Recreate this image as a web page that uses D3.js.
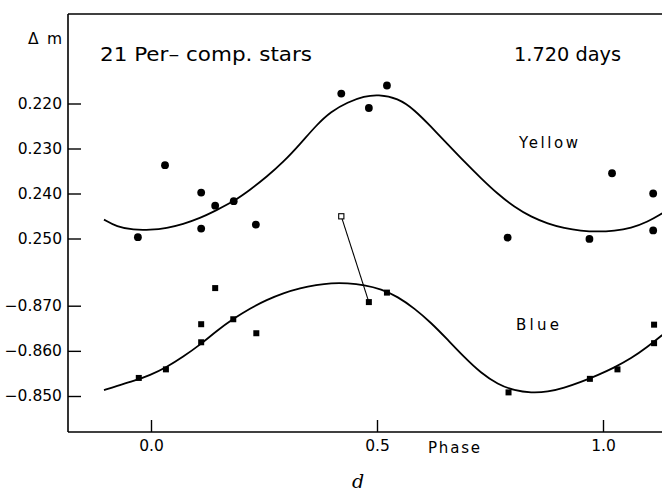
<!DOCTYPE html>
<html>
<head>
<meta charset="utf-8">
<script src="https://cdn.jsdelivr.net/npm/d3@7"></script>
<style>
  body { margin: 0; background: #fff; overflow: hidden; }
  svg { display: block; font-family: "DejaVu Sans", sans-serif; }
</style>
</head>
<body>
<svg id="chart"></svg>
<script>
const SVG_WIDTH = 662;
const SVG_HEIGHT = 498;

// observed points, yellow (circles)
const yellowPhase = [-0.029, 0.031, 0.111, 0.111, 0.142, 0.183, 0.232, 0.421, 0.482, 0.522, 0.789, 0.970, 1.020, 1.111, 1.111];
const yellowMag = [0.2497, 0.2337, 0.2398, 0.2478, 0.2427, 0.2417, 0.2469, 0.2178, 0.2210, 0.2160, 0.2498, 0.2501, 0.2355, 0.2400, 0.2482];

// observed points, blue (squares)
const bluePhase = [-0.027, 0.033, 0.111, 0.111, 0.142, 0.182, 0.233, 0.482, 0.522, 0.791, 0.971, 1.032, 1.113, 1.113];
const blueMag = [-0.8540, -0.8559, -0.8659, -0.8619, -0.8739, -0.8670, -0.8639, -0.8708, -0.8729, -0.8508, -0.8538, -0.8559, -0.8658, -0.8617];

// discarded blue point (open square) and the point it moved to
const bluePhaseOpen = [0.421];
const blueMagOpen = [-0.8898];
const bluePhaseMoved = [0.482];
const blueMagMoved = [-0.8708];

// fitted curves
const yellowCurvePhase = [-0.104, -0.076, -0.039, -0.002, 0.035, 0.071, 0.108, 0.145, 0.182, 0.219, 0.256, 0.293, 0.330, 0.366, 0.398, 0.435, 0.472, 0.502, 0.546, 0.583, 0.620, 0.656, 0.693, 0.730, 0.767, 0.804, 0.841, 0.878, 0.914, 0.951, 0.988, 1.025, 1.062, 1.099, 1.131];
const yellowCurveMag = [0.2458, 0.2474, 0.2481, 0.2481, 0.2477, 0.2468, 0.2455, 0.2437, 0.2418, 0.2392, 0.2363, 0.2330, 0.2290, 0.2248, 0.2218, 0.2197, 0.2184, 0.2180, 0.2188, 0.2214, 0.2252, 0.2290, 0.2329, 0.2366, 0.2401, 0.2430, 0.2452, 0.2467, 0.2477, 0.2483, 0.2485, 0.2483, 0.2477, 0.2463, 0.2444];
const blueCurvePhase = [-0.104, -0.076, -0.039, -0.002, 0.035, 0.071, 0.108, 0.145, 0.182, 0.219, 0.256, 0.293, 0.330, 0.366, 0.398, 0.435, 0.472, 0.509, 0.546, 0.583, 0.620, 0.656, 0.693, 0.730, 0.767, 0.804, 0.841, 0.878, 0.914, 0.951, 0.988, 1.025, 1.062, 1.099, 1.131];
const blueCurveMag = [-0.8513, -0.8522, -0.8533, -0.8546, -0.8564, -0.8587, -0.8613, -0.8644, -0.8671, -0.8694, -0.8713, -0.8728, -0.8739, -0.8746, -0.8750, -0.8750, -0.8746, -0.8737, -0.8720, -0.8694, -0.8662, -0.8625, -0.8586, -0.8551, -0.8526, -0.8512, -0.8507, -0.8509, -0.8518, -0.8531, -0.8546, -0.8563, -0.8583, -0.8609, -0.8635];

// tick labels
const phaseTicks = [0, 0.5, 1.0];
const yellowTicks = [0.220, 0.230, 0.240, 0.250];
const blueTicks = [-0.870, -0.860, -0.850];

const LEFT = 68, RIGHT = 662, TOP = 14, BOTTOM = 432;

let svg = d3.select('#chart')
  .attr('width', SVG_WIDTH)
  .attr('height', SVG_HEIGHT);

let x = d3.scaleLinear().domain([0, 1]).range([151, 603]);
let yYellow = d3.scaleLinear().domain([0.220, 0.250]).range([103.5, 238.5]);
let yBlue = d3.scaleLinear().domain([-0.870, -0.850]).range([305.7, 396]);

// frame
svg.append('line').attr('x1', LEFT).attr('x2', LEFT).attr('y1', TOP).attr('y2', BOTTOM)
  .attr('stroke', '#000').attr('stroke-width', 1.6);
svg.append('line').attr('x1', LEFT).attr('x2', RIGHT).attr('y1', TOP).attr('y2', TOP)
  .attr('stroke', '#000').attr('stroke-width', 1.6);

// axes
let xAxis = svg.append('g')
  .attr('transform', 'translate(0,' + BOTTOM + ')')
  .call(d3.axisBottom(x).tickValues(phaseTicks).tickFormat(d3.format('.1f'))
    .tickSizeInner(-12).tickSizeOuter(0).tickPadding(8));
xAxis.select('.domain').remove();
svg.append('line').attr('x1', LEFT).attr('x2', RIGHT).attr('y1', BOTTOM).attr('y2', BOTTOM)
  .attr('stroke', '#000').attr('stroke-width', 1.6);

function yAxis(scale, ticks) {
  let g = svg.append('g')
    .attr('transform', 'translate(' + LEFT + ',0)')
    .call(d3.axisLeft(scale).tickValues(ticks).tickFormat(d3.format('.3f'))
      .tickSizeInner(-13).tickSizeOuter(0).tickPadding(6));
  g.select('.domain').remove();
  return g;
}
yAxis(yYellow, yellowTicks);
yAxis(yBlue, blueTicks);

svg.selectAll('.tick line').attr('stroke', '#000').attr('stroke-width', 1.4);
svg.selectAll('.tick text')
  .attr('font-family', '"DejaVu Sans", sans-serif')
  .attr('font-size', 15.5)
  .attr('fill', '#000');

// curves
let lineYellow = d3.line()
  .x(function(d, i) { return x(yellowCurvePhase[i]); })
  .y(function(d) { return yYellow(d); })
  .curve(d3.curveBasis);
svg.append('path')
  .attr('d', lineYellow(yellowCurveMag))
  .attr('fill', 'none').attr('stroke', '#000').attr('stroke-width', 1.8);

let lineBlue = d3.line()
  .x(function(d, i) { return x(blueCurvePhase[i]); })
  .y(function(d) { return yBlue(d); })
  .curve(d3.curveBasis);
svg.append('path')
  .attr('d', lineBlue(blueCurveMag))
  .attr('fill', 'none').attr('stroke', '#000').attr('stroke-width', 1.8);

// link from open square to its moved point
svg.selectAll('line.link')
  .data(bluePhaseOpen)
  .enter()
  .append('line')
  .attr('class', 'link')
  .attr('x1', function(d) { return x(d); })
  .attr('y1', function(d, i) { return yBlue(blueMagOpen[i]); })
  .attr('x2', function(d, i) { return x(bluePhaseMoved[i]); })
  .attr('y2', function(d, i) { return yBlue(blueMagMoved[i]); })
  .attr('stroke', '#000').attr('stroke-width', 1.1);

// yellow circles
svg.selectAll('circle.yellow')
  .data(yellowPhase)
  .enter()
  .append('circle')
  .attr('class', 'yellow')
  .attr('cx', function(d) { return x(d); })
  .attr('cy', function(d, i) { return yYellow(yellowMag[i]); })
  .attr('r', 3.9)
  .attr('fill', '#000');

// blue squares
const SQ = 6;
svg.selectAll('rect.blue')
  .data(bluePhase)
  .enter()
  .append('rect')
  .attr('class', 'blue')
  .attr('x', function(d) { return x(d) - SQ / 2; })
  .attr('y', function(d, i) { return yBlue(blueMag[i]) - SQ / 2; })
  .attr('width', SQ).attr('height', SQ)
  .attr('fill', '#000');

svg.selectAll('rect.open')
  .data(bluePhaseOpen)
  .enter()
  .append('rect')
  .attr('class', 'open')
  .attr('x', function(d) { return x(d) - 2.6; })
  .attr('y', function(d, i) { return yBlue(blueMagOpen[i]) - 2.6; })
  .attr('width', 5.2).attr('height', 5.2)
  .attr('fill', '#fff').attr('stroke', '#000').attr('stroke-width', 1.1);

// texts
function label(txt, tx, ty, size, anchor, extra) {
  let t = svg.append('text')
    .attr('x', tx).attr('y', ty)
    .attr('font-size', size)
    .attr('text-anchor', anchor || 'start')
    .attr('fill', '#000')
    .text(txt);
  if (extra) extra(t);
  return t;
}
label('Δ m', 28, 44, 15.5, 'start', t => t.attr('textLength', 34).attr('lengthAdjust', 'spacing'));
label('21 Per– comp. stars', 100, 61, 20, 'start', t => t.attr('textLength', 212).attr('lengthAdjust', 'spacingAndGlyphs'));
label('1.720 days', 514, 61, 20, 'start', t => t.attr('textLength', 107).attr('lengthAdjust', 'spacingAndGlyphs'));
label('Yellow', 519, 148, 15, 'start', t => t.attr('textLength', 59).attr('lengthAdjust', 'spacing'));
label('Blue', 516, 330, 15, 'start', t => t.attr('textLength', 43).attr('lengthAdjust', 'spacing'));
label('Phase', 428, 453, 15, 'start', t => t.attr('textLength', 52).attr('lengthAdjust', 'spacing'));
label('d', 358, 488, 19, 'middle', t => t.attr('font-family', '"DejaVu Serif", serif').attr('font-style', 'italic'));
</script>
</body>
</html>
